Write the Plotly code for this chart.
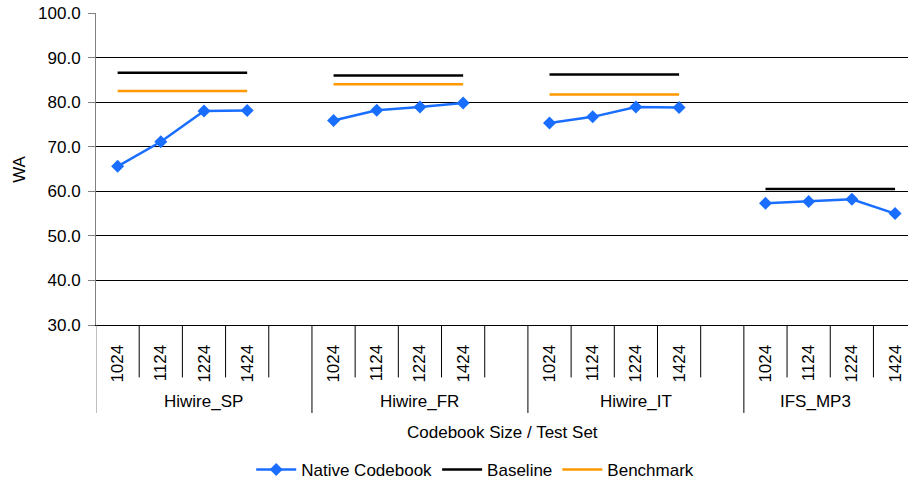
import plotly.graph_objects as go

groups = ["Hiwire_SP", "Hiwire_FR", "Hiwire_IT", "IFS_MP3"]
sizes = ["1024", "1124", "1224", "1424"]
native = [
    [65.6, 71.1, 78.0, 78.1],
    [75.9, 78.2, 78.9, 79.8],
    [75.3, 76.7, 78.9, 78.8],
    [57.3, 57.7, 58.2, 55.0],
]
baseline = [86.6, 86.0, 86.2, 60.5]
benchmark = [82.5, 84.0, 81.7, None]

FONT = "Liberation Sans, Arial, sans-serif"

# build positions (each group = 4 sizes + 1 empty gap category)
xs, y_nat, y_base, y_bench = [], [], [], []
tickvals, ticktext = [], []
for g, grp in enumerate(groups):
    for k, s in enumerate(sizes):
        idx = g * 5 + k
        xs.append(idx)
        y_nat.append(native[g][k])
        y_base.append(baseline[g])
        y_bench.append(benchmark[g])
        tickvals.append(idx)
        ticktext.append(s)
    if g < len(groups) - 1:
        xs.append(g * 5 + 4)
        y_nat.append(None)
        y_base.append(None)
        y_bench.append(None)

fig = go.Figure()
fig.add_trace(go.Scatter(x=xs, y=y_nat, name="Native Codebook", mode="lines+markers",
                         line=dict(color="#1a6eff", width=2.5),
                         marker=dict(symbol="diamond", size=10, color="#1a6eff"),
                         connectgaps=False))
fig.add_trace(go.Scatter(x=xs, y=y_base, name="Baseline", mode="lines",
                         line=dict(color="#000000", width=2.5), connectgaps=False))
fig.add_trace(go.Scatter(x=xs, y=y_bench, name="Benchmark", mode="lines",
                         line=dict(color="#ff9900", width=2.5), connectgaps=False))

XMAX = 18.3
shapes = []
short_y = -0.168
long_y = -0.282
# y axis extension
shapes.append(dict(type="line", xref="x", yref="paper", x0=-0.5, x1=-0.5, y0=0, y1=long_y,
                   line=dict(color="#808080", width=1)))
for g in range(len(groups)):
    for k in range(4):
        b = g * 5 + k + 0.5
        if b > XMAX:
            continue
        shapes.append(dict(type="line", xref="x", yref="paper", x0=b, x1=b, y0=0, y1=short_y,
                           line=dict(color="#000000", width=1)))
    if g < len(groups) - 1:
        b = g * 5 + 4.5
        shapes.append(dict(type="line", xref="x", yref="paper", x0=b, x1=b, y0=0, y1=long_y,
                           line=dict(color="#000000", width=1)))

annotations = []
group_centers = [2.0, 7.0, 12.0, 16.15]
for g, grp in enumerate(groups):
    annotations.append(dict(x=group_centers[g], xref="x", y=-0.245, yref="paper",
                            text=grp, showarrow=False, xanchor="center", yanchor="middle",
                            font=dict(family=FONT, size=17, color="#000000")))
annotations.append(dict(x=0.5, xref="paper", y=-0.346, yref="paper",
                        text="Codebook Size / Test Set", showarrow=False,
                        xanchor="center", yanchor="middle",
                        font=dict(family=FONT, size=17, color="#000000")))
annotations.append(dict(x=-0.095, xref="paper", y=0.5, yref="paper",
                        text="WA", showarrow=False, textangle=-90,
                        xanchor="center", yanchor="middle",
                        font=dict(family=FONT, size=17, color="#000000")))

fig.update_layout(
    width=909, height=483,
    margin=dict(l=96, r=1, t=13, b=158, autoexpand=False),
    paper_bgcolor="white", plot_bgcolor="white",
    font=dict(family=FONT, size=16, color="#000000"),
    shapes=shapes, annotations=annotations,
    legend=dict(orientation="h", x=0.467, xanchor="center",
                yref="container", y=0.027, yanchor="middle",
                font=dict(family=FONT, size=17, color="#000000"), itemwidth=40),
    xaxis=dict(range=[-0.5, XMAX], tickmode="array", tickvals=tickvals, ticktext=ticktext,
               tickangle=-90, ticks="", showgrid=False, zeroline=False, automargin=False,
               showline=True, linecolor="#000000", linewidth=1,
               ticklabelstandoff=12, ticklabeloverflow="allow",
               tickfont=dict(family=FONT, size=17, color="#000000")),
    yaxis=dict(range=[30, 100], dtick=10, tickformat=".1f", showgrid=True, automargin=False,
               gridcolor="#000000", gridwidth=1, zeroline=False,
               showline=True, linecolor="#808080", linewidth=1,
               ticks="outside", ticklen=7, tickcolor="#808080",
               ticklabelstandoff=4, ticklabeloverflow="allow",
               tickfont=dict(family=FONT, size=17, color="#000000")),
)

# remove the browser's default 8px page margin so the figure fills the window exactly
fig.write_html("out.html",
               config={"displayModeBar": False},
               post_script="document.body.style.margin='0';document.body.style.overflow='hidden';")
